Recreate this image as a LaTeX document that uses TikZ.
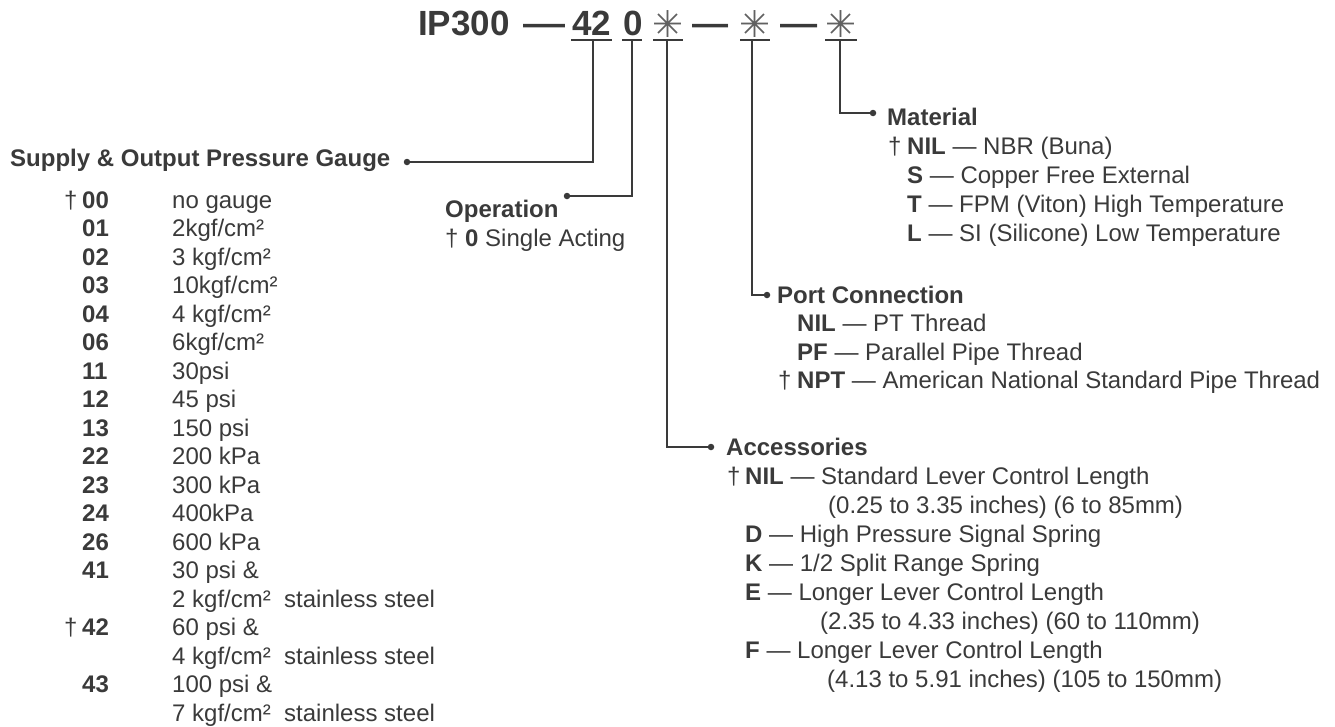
\documentclass[tikz,border=0pt]{standalone}
\usepackage{fontspec}
\setmainfont{Liberation Sans}
\newfontfamily\symfont{DejaVu Sans}
\definecolor{ink}{RGB}{58,58,58}
\begin{document}
\begin{tikzpicture}[x=1pt,y=-1pt,
  txt/.style={anchor=base west, inner sep=0pt, text=ink, font=\fontsize{24}{28}\selectfont},
  btxt/.style={txt, font=\fontsize{24}{28}\selectfont\bfseries},
  hdr/.style={anchor=base west, inner sep=0pt, text=ink, font=\fontsize{35}{38}\selectfont\bfseries},
  ast/.style={anchor=center, inner sep=0pt, text=ink!80, font=\symfont\fontsize{37}{37}\selectfont},
  conn/.style={draw=ink, line width=1.8pt},
  uline/.style={draw=ink, line width=1.8pt},
  dotn/.style={circle, fill=ink, inner sep=0pt, minimum size=6.5pt}]
\useasboundingbox (0,0) rectangle (1335,726);

% ---------------- header ----------------
\node[hdr] (ip) at (418,35) {IP300};
\node[hdr] (dash1) at (523,35) {\scalebox{1.2}[1]{—}};
\node[hdr] (c42) at (572,35) {42};
\node[hdr] (c0) at (623,35) {0};
\node[ast] (a1) at (668,24) {✳};
\node[hdr] (dash2) at (692,35) {\scalebox{1.03}[1]{—}};
\node[ast] (a2) at (755,24) {✳};
\node[hdr] (dash3) at (780,35) {\scalebox{1.06}[1]{—}};
\node[ast] (a3) at (841,24) {✳};

\draw[uline] (571,40) -- (612,40);
\draw[uline] (622,40) -- (642,40);
\draw[uline] (653,40) -- (683,40);
\draw[uline] (740,40) -- (770,40);
\draw[uline] (825,40) -- (857,40);

\coordinate (u42) at (593,40);
\coordinate (u0) at (632,40);
\coordinate (ua1) at (667,40);
\coordinate (ua2) at (752,40);
\coordinate (ua3) at (840,40);

% ---------------- connectors ----------------
\node[dotn] (dg) at (407,162) {};
\node[dotn] (dop) at (567,196) {};
\node[dotn] (dac) at (711,447) {};
\node[dotn] (dpc) at (767,295) {};
\node[dotn] (dma) at (873,113) {};
\draw[conn] (u42) |- (dg);
\draw[conn] (u0) |- (dop);
\draw[conn] (ua1) |- (dac);
\draw[conn] (ua2) |- (dpc);
\draw[conn] (ua3) |- (dma);

% ---------------- supply & output pressure gauge ----------------
\node[btxt] (gauge) at (10,166) {Supply \& Output Pressure Gauge};
\node[txt] (gt0) at (64,208) {†};
\node[txt] (gt15) at (64,635.5) {†};
\node[btxt] (gc0) at (82,208) {00};     \node[txt] (gv0) at (172,208) {no gauge};
\node[btxt] (gc1) at (82,236.5) {01};   \node[txt] (gv1) at (172,236.5) {2kgf/cm²};
\node[btxt] (gc2) at (82,265) {02};     \node[txt] (gv2) at (172,265) {3 kgf/cm²};
\node[btxt] (gc3) at (82,293.5) {03};   \node[txt] (gv3) at (172,293.5) {10kgf/cm²};
\node[btxt] (gc4) at (82,322) {04};     \node[txt] (gv4) at (172,322) {4 kgf/cm²};
\node[btxt] (gc5) at (82,350.5) {06};   \node[txt] (gv5) at (172,350.5) {6kgf/cm²};
\node[btxt] (gc6) at (82,379) {11};     \node[txt] (gv6) at (172,379) {30psi};
\node[btxt] (gc7) at (82,407.5) {12};   \node[txt] (gv7) at (172,407.5) {45 psi};
\node[btxt] (gc8) at (82,436) {13};     \node[txt] (gv8) at (172,436) {150 psi};
\node[btxt] (gc9) at (82,464.5) {22};   \node[txt] (gv9) at (172,464.5) {200 kPa};
\node[btxt] (gc10) at (82,493) {23};    \node[txt] (gv10) at (172,493) {300 kPa};
\node[btxt] (gc11) at (82,521.5) {24};  \node[txt] (gv11) at (172,521.5) {400kPa};
\node[btxt] (gc12) at (82,550) {26};    \node[txt] (gv12) at (172,550) {600 kPa};
\node[btxt] (gc13) at (82,578.5) {41};  \node[txt] (gv13) at (172,578.5) {30 psi \&};
                                        \node[txt] (gv14) at (172,607) {2 kgf/cm²\ \ stainless steel};
\node[btxt] (gc15) at (82,635.5) {42};  \node[txt] (gv15) at (172,635.5) {60 psi \&};
                                        \node[txt] (gv16) at (172,664) {4 kgf/cm²\ \ stainless steel};
\node[btxt] (gc17) at (82,692.5) {43};  \node[txt] (gv17) at (172,692.5) {100 psi \&};
                                        \node[txt] (gv18) at (172,721) {7 kgf/cm²\ \ stainless steel};

% ---------------- operation ----------------
\node[btxt] (op) at (445,217) {Operation};
\node[txt] (op1) at (445,246) {† \textbf{0} Single Acting};

% ---------------- material ----------------
\node[btxt] (mat) at (887,125) {Material};
\node[txt] (mt1) at (888,154) {†};
\node[txt] (m1) at (907,154) {\textbf{NIL} — NBR (Buna)};
\node[txt] (m2) at (907,183) {\textbf{S} — Copper Free External};
\node[txt] (m3) at (907,212) {\textbf{T} — FPM (Viton) High Temperature};
\node[txt] (m4) at (907,241) {\textbf{L} — SI (Silicone) Low Temperature};

% ---------------- port connection ----------------
\node[btxt] (port) at (777,303) {Port Connection};
\node[txt] (p1) at (797,331.5) {\textbf{NIL} — PT Thread};
\node[txt] (p2) at (797,360) {\textbf{PF} — Parallel Pipe Thread};
\node[txt] (pt3) at (778,388.5) {†};
\node[txt] (p3) at (797,388.5) {\textbf{NPT} — American National Standard Pipe Thread};

% ---------------- accessories ----------------
\node[btxt] (acc) at (726,455) {Accessories};
\node[txt] (at1) at (727,484) {†};
\node[txt] (ac1) at (745,484) {\textbf{NIL} — Standard Lever Control Length};
\node[txt] (ac1b) at (828,513) {(0.25 to 3.35 inches) (6 to 85mm)};
\node[txt] (ac2) at (745,542) {\textbf{D} — High Pressure Signal Spring};
\node[txt] (ac3) at (745,571) {\textbf{K} — 1/2 Split Range Spring};
\node[txt] (ac4) at (745,600) {\textbf{E} — Longer Lever Control Length};
\node[txt] (ac4b) at (820,629) {(2.35 to 4.33 inches) (60 to 110mm)};
\node[txt] (ac5) at (745,658) {\textbf{F} — Longer Lever Control Length};
\node[txt] (ac5b) at (827,687) {(4.13 to 5.91 inches) (105 to 150mm)};
\end{tikzpicture}
\end{document}
